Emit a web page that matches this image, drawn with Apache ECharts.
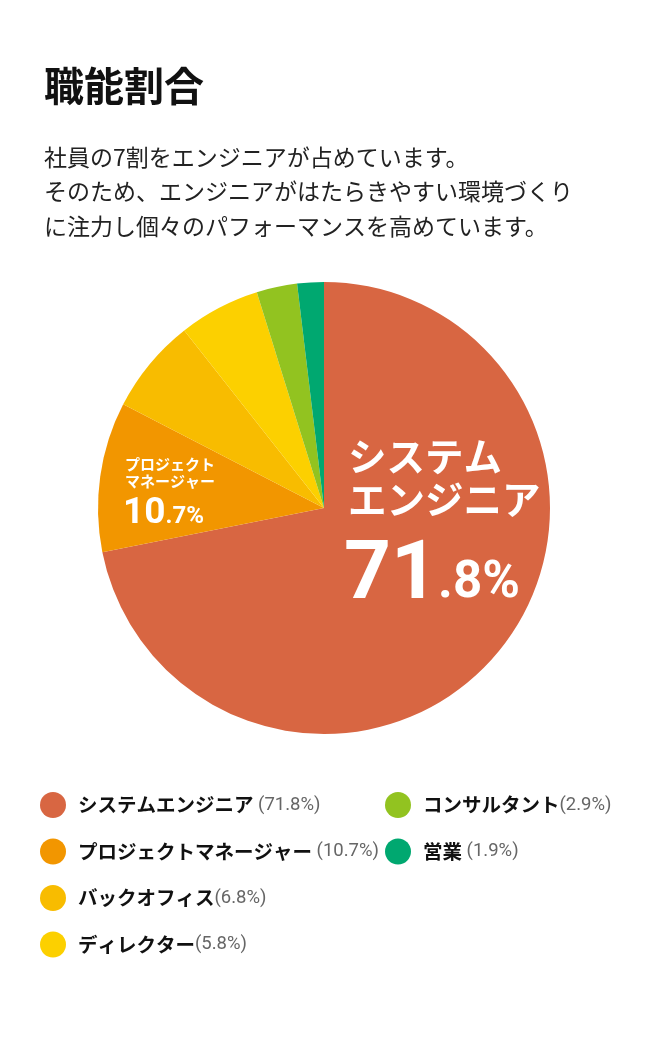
<!DOCTYPE html>
<html>
<head>
<meta charset="utf-8">
<script src="https://cdn.jsdelivr.net/npm/echarts@6/dist/echarts.min.js"></script>
<style>
  html, body { margin: 0; padding: 0; background: #fff; }
  #chart { width: 648px; height: 1040px; }
</style>
</head>
<body>
<div id="chart"></div>
<script>
// データ
const names = ['システムエンジニア', 'プロジェクトマネージャー', 'バックオフィス', 'ディレクター', 'コンサルタント', '営業'];
const values = [71.8, 10.7, 6.8, 5.8, 2.9, 1.9];
const colors = ['#D86642', '#F29600', '#F8BC00', '#FCD000', '#92C320', '#00A870'];
const pctSep = [' ', ' ', '', '', '', ' '];

const titleText = '職能割合';
const bodyLines = [
    '社員の7割をエンジニアが占めています。',
    'そのため、エンジニアがはたらきやすい環境づくり',
    'に注力し個々のパフォーマンスを高めています。'
];

const jp = '"Noto Sans CJK JP", "Noto Sans", sans-serif';
const num = 'Roboto, "Noto Sans", sans-serif';

const chart = echarts.init(document.getElementById('chart'));

// 数値を大小2つに分ける 71.8 -> ["71", ".8%"]
function splitPct(v) {
    const s = v.toFixed(1).split('.');
    return [s[0], '.' + s[1] + '%'];
}

function legendFormatter(name) {
    const i = names.indexOf(name);
    return `{n|${name}}{p|${pctSep[i]}(${values[i]}%)}`;
}

const legendRich = {
    n: { fontFamily: jp, fontSize: 19.5, fontWeight: 'bold', color: '#111', lineHeight: 26 },
    p: { fontFamily: num, fontSize: 18.5, color: '#666', lineHeight: 26 }
};

function makeLegend(data, left) {
    return {
        data: data,
        orient: 'vertical',
        left: left,
        top: 792,
        padding: 0,
        icon: 'circle',
        itemWidth: 26,
        itemHeight: 26,
        itemGap: 20.5,
        selectedMode: false,
        formatter: legendFormatter,
        textStyle: { padding: [0, 0, 0, 7], rich: legendRich }
    };
}

const se = splitPct(values[0]);
const pm = splitPct(values[1]);

const option = {
    animation: false,
    color: colors,
    title: {
        text: titleText,
        left: 44,
        top: 66,
        padding: 0,
        textStyle: { fontFamily: jp, fontSize: 40, fontWeight: 'bold', color: '#111' }
    },
    legend: [
        makeLegend(names.slice(0, 4), 40),
        makeLegend(names.slice(4), 385)
    ],
    graphic: [
        {
            type: 'text',
            left: 44,
            top: 140,
            style: {
                text: bodyLines.join('\n'),
                fontFamily: jp,
                fontSize: 23,
                lineHeight: 34.5,
                fill: '#222'
            }
        },
        {
            type: 'text',
            left: 348,
            top: 435,
            z: 10,
            style: {
                text: 'システム\nエンジニア',
                fontFamily: jp,
                fontSize: 38.5,
                fontWeight: 'bold',
                lineHeight: 43,
                fill: '#fff'
            }
        },
        {
            type: 'text',
            left: 344,
            top: 536,
            z: 10,
            style: {
                text: `{a|${se[0]}}{b|${se[1]}}`,
                rich: {
                    a: { fontFamily: num, fontSize: 82, fontWeight: 'bold', fill: '#fff', verticalAlign: 'bottom', lineHeight: 100 },
                    b: { fontFamily: num, fontSize: 51, fontWeight: 'bold', fill: '#fff', verticalAlign: 'bottom', lineHeight: 100, padding: [0, 0, 8, 0] }
                }
            }
        },
        {
            type: 'text',
            left: 125,
            top: 456,
            z: 10,
            style: {
                text: 'プロジェクト\nマネージャー',
                fontFamily: jp,
                fontSize: 15,
                fontWeight: 'bold',
                lineHeight: 17,
                fill: '#fff'
            }
        },
        {
            type: 'text',
            left: 123,
            top: 495,
            z: 10,
            style: {
                text: `{a|${pm[0]}}{b|${pm[1]}}`,
                rich: {
                    a: { fontFamily: num, fontSize: 37, fontWeight: 'bold', fill: '#fff', verticalAlign: 'bottom', lineHeight: 42 },
                    b: { fontFamily: num, fontSize: 24, fontWeight: 'bold', fill: '#fff', verticalAlign: 'bottom', lineHeight: 42, padding: [0, 0, 3, 0] }
                }
            }
        }
    ],
    series: [
        {
            type: 'pie',
            center: [324, 508],
            radius: 226,
            startAngle: 90,
            clockwise: true,
            silent: true,
            label: { show: false },
            labelLine: { show: false },
            emphasis: { disabled: true },
            data: names.map((n, i) => ({ name: n, value: values[i] }))
        }
    ]
};

chart.setOption(option);
</script>
</body>
</html>
